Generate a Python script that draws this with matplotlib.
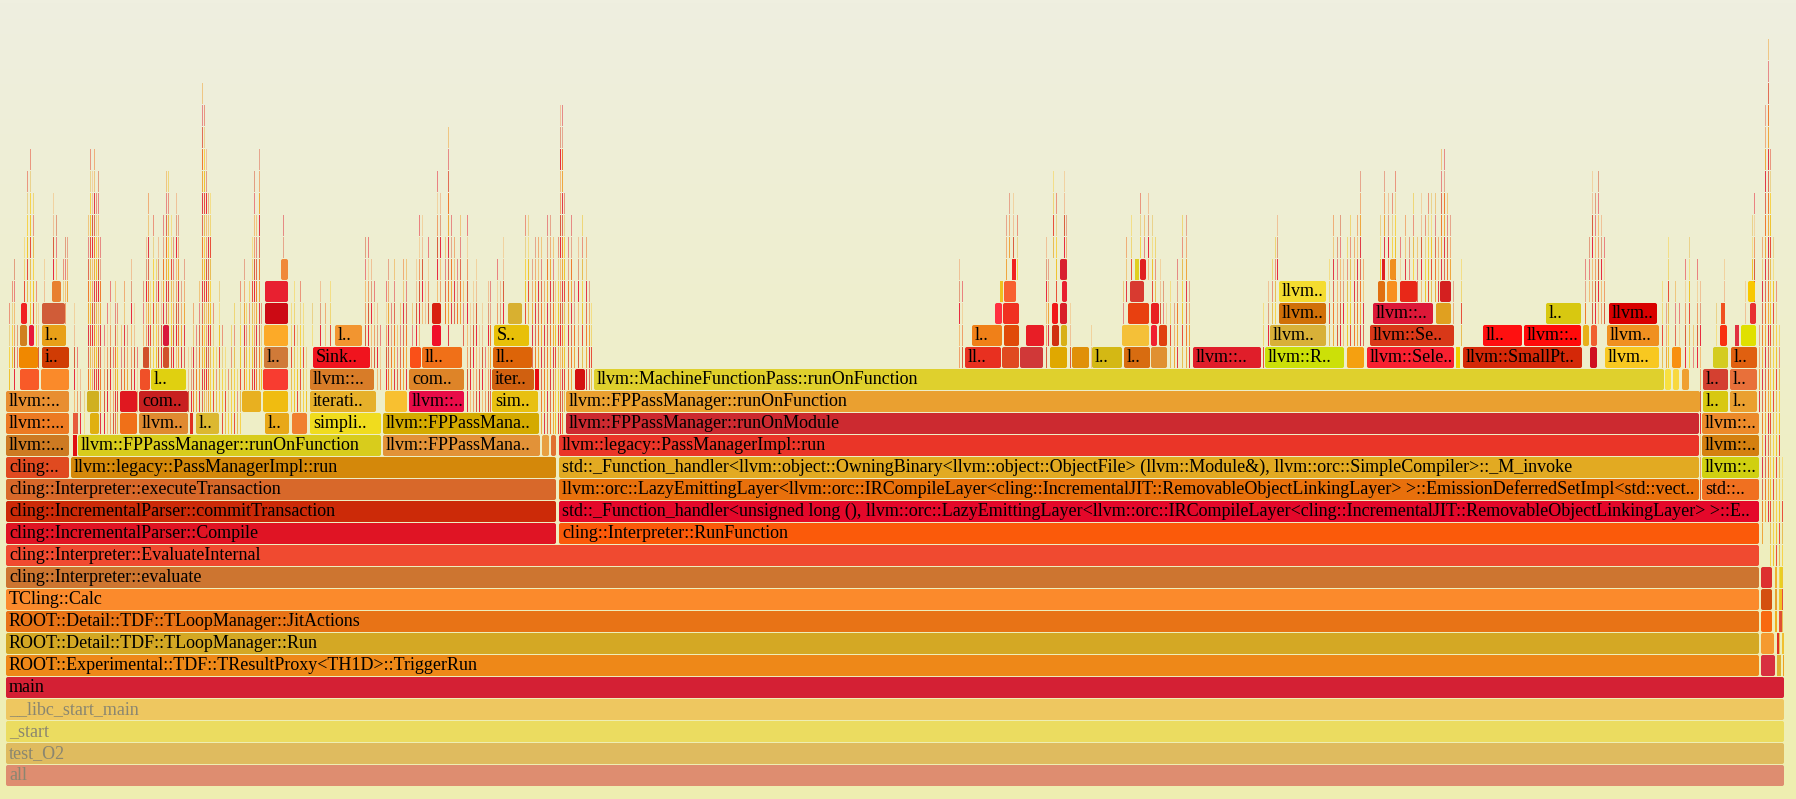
import numpy as np
import matplotlib
matplotlib.use("Agg")
import matplotlib.pyplot as plt
from matplotlib.patches import FancyBboxPatch, Rectangle
from matplotlib.colors import LinearSegmentedColormap

# flame graph of test_O2 (zoomed on "main"), x in samples, depth from the root
FADED = ["all", "test_O2", "_start", "__libc_start_main"]

# (depth, start, end, label, colour)
base_stack = [
    (0, 0, 1779, "all", "#de8d70"),
    (1, 0, 1779, "test_O2", "#dfbb5f"),
    (2, 0, 1779, "_start", "#ebdc60"),
    (3, 0, 1779, "__libc_start_main", "#eec760"),
    (4, 0, 1779, "main", "#d42034"),
    (5, 0, 1754, "ROOT::Experimental::TDF::TResultProxy<TH1D>::TriggerRun", "#ee8818"),
    (5, 1755, 1770, "", "#d83040"), (5, 1771, 1776, "", "#e0b030"), (5, 1777, 1779, "", "#f0a020"),
    (6, 0, 1754, "ROOT::Detail::TDF::TLoopManager::Run", "#d4a824"),
    (6, 1755, 1769, "", "#f59a30"), (6, 1771, 1774, "", "#e03020"), (6, 1776, 1779, "", "#f0c030"),
    (7, 0, 1754, "ROOT::Detail::TDF::TLoopManager::JitActions", "#e87316"),
    (7, 1755, 1767, "", "#f86a10"), (7, 1769, 1772, "", "#f0b020"), (7, 1774, 1777, "", "#e05030"),
    (8, 0, 1754, "TCling::Calc", "#fb8a2c"),
    (8, 1755, 1767, "", "#d45010"), (8, 1769, 1772, "", "#e8a030"), (8, 1774, 1777, "", "#f0c020"),
    (9, 0, 1754, "cling::Interpreter::evaluate", "#cd7530"),
    (9, 1755, 1767, "", "#dd3030"), (9, 1769, 1772, "", "#f0b030"), (9, 1774, 1777, "", "#e8d020"),
    (10, 0, 1754, "cling::Interpreter::EvaluateInternal", "#f04a30"),
    (11, 0, 551, "cling::IncrementalParser::Compile", "#e01424"),
    (11, 553, 1754, "cling::Interpreter::RunFunction", "#fb5a0a"),
    (12, 0, 551, "cling::IncrementalParser::commitTransaction", "#cc2a08"),
    (12, 553, 1754, "std::_Function_handler<unsigned long (), llvm::orc::LazyEmittingLayer<llvm::orc::IRCompileLayer<cling::IncrementalJIT::RemovableObjectLinkingLayer> >::E..", "#e4082a"),
    (13, 0, 551, "cling::Interpreter::executeTransaction", "#d8682a"),
    (13, 553, 1694, "llvm::orc::LazyEmittingLayer<llvm::orc::IRCompileLayer<cling::IncrementalJIT::RemovableObjectLinkingLayer> >::EmissionDeferredSetImpl<std::vect..", "#e8700c"),
    (13, 1696, 1754, "std::..", "#f07020"),
    (14, 0, 64, "cling:..", "#e04a20"),
    (14, 65, 551, "llvm::legacy::PassManagerImpl::run", "#d4880a"),
    (14, 553, 1694, "std::_Function_handler<llvm::object::OwningBinary<llvm::object::ObjectFile> (llvm::Module&), llvm::orc::SimpleCompiler>::_M_invoke", "#e2aa22"),
    (14, 1696, 1754, "llvm::..", "#d0d010"),
]

left_frames = [
    (15, 0, 64, "llvm::...", "#cd7a22"), (15, 67, 72, "", "#e01010"),
    (15, 72, 376, "llvm::FPPassManager::runOnFunction", "#d8cc1c"),
    (15, 377, 535, "llvm::FPPassMana..", "#e29238"), (15, 536, 544, "", "#e8a040"), (15, 545, 551, "", "#e07030"),
    (16, 0, 64, "llvm::...", "#ec7a22"), (16, 67, 72, "", "#e85a3a"), (16, 84, 94, "", "#e0b010"),
    (16, 114, 132, "", "#f07018"), (16, 133, 183, "llvm..", "#e08a30"), (16, 184, 188, "", "#e03020"),
    (16, 190, 214, "l..", "#dcb830"), (16, 259, 284, "l..", "#e8a818"), (16, 286, 302, "", "#f08030"),
    (16, 304, 376, "simpli..", "#f0dc1e"), (16, 377, 534, "llvm::FPPassMana..", "#d4aa00"),
    (17, 0, 64, "llvm::..", "#e88e30"), (17, 81, 94, "", "#d0b020"), (17, 114, 132, "", "#e01820"),
    (17, 133, 183, "com..", "#c82020"), (17, 236, 256, "", "#e8b020"), (17, 257, 283, "", "#f0bc10"),
    (17, 304, 371, "iterati..", "#e6b02a"), (17, 379, 402, "", "#f8c030"),
    (17, 403, 459, "llvm::..", "#e80c48"), (17, 486, 533, "sim..", "#e8c010"),
    (18, 14, 34, "", "#f85a28"), (18, 35, 64, "", "#fa8a2a"), (18, 134, 145, "", "#f05028"),
    (18, 145, 181, "l..", "#e0d010"), (18, 257, 283, "", "#f83c30"), (18, 304, 369, "llvm::..", "#d87c28"),
    (18, 403, 459, "com..", "#de8428"), (18, 486, 529, "iter..", "#d06010"), (18, 529, 534, "", "#e80a10"),
    (19, 13, 33, "", "#f08800"), (19, 36, 64, "i..", "#d03c04"), (19, 137, 144, "", "#d0502a"),
    (19, 157, 164, "", "#d0502a"), (19, 258, 283, "l..", "#d07a38"), (19, 307, 365, "Sink..", "#f0141e"),
    (19, 404, 416, "", "#fa5018"), (19, 416, 457, "ll..", "#f07018"), (19, 487, 527, "ll..", "#dd6408"),
    (20, 14, 22, "", "#d08020"), (20, 23, 29, "", "#e8183a"), (20, 36, 61, "l..", "#e8a018"),
    (20, 157, 164, "", "#d8183a"), (20, 258, 283, "", "#fcaa28"), (20, 329, 357, "l..", "#f29530"),
    (20, 426, 436, "", "#f0102a"), (20, 488, 524, "S..", "#e8c008"),
    (21, 15, 22, "", "#f02020"), (21, 36, 60, "", "#d05c38"), (21, 259, 283, "", "#cc0a14"),
    (21, 426, 436, "", "#d82010"), (21, 502, 517, "", "#d8b030"),
    (22, 46, 56, "", "#e88030"), (22, 259, 283, "", "#e82030"),
    (23, 275, 283, "", "#f08838"),
]

right_frames = [
    (15, 553, 1694, "llvm::legacy::PassManagerImpl::run", "#ea3528"), (15, 1696, 1754, "llvm::..", "#d48010"),
    (16, 560, 1694, "llvm::FPPassManager::runOnModule", "#cc2a30"), (16, 1696, 1754, "llvm::..", "#ec8a2a"),
    (17, 560, 1695, "llvm::FPPassManager::runOnFunction", "#eaa030"),
    (17, 1697, 1723, "l..", "#d8c810"), (17, 1724, 1752, "l..", "#eaa030"),
    (18, 569, 580, "", "#d41010"), (18, 588, 1659, "llvm::MachineFunctionPass::runOnFunction", "#dfd02d"),
    (18, 1659, 1666, "", "#f8e040"), (18, 1667, 1674, "", "#f8d840"), (18, 1676, 1684, "", "#f0a030"),
    (18, 1697, 1723, "l..", "#d44030"), (18, 1724, 1752, "l..", "#e8703a"),
    (19, 959, 996, "ll..", "#e83020"), (19, 996, 1014, "", "#e04a20"), (19, 1014, 1038, "", "#d03838"),
    (19, 1044, 1062, "", "#e0a800"), (19, 1066, 1084, "", "#e09008"), (19, 1086, 1117, "l..", "#d4b814"),
    (19, 1118, 1145, "l..", "#d86c10"), (19, 1145, 1162, "", "#e09030"), (19, 1187, 1256, "llvm::..", "#e01e2a"),
    (19, 1259, 1339, "llvm::R..", "#cce008"), (19, 1341, 1359, "", "#f5a010"),
    (19, 1361, 1449, "llvm::Sele..", "#f82030"), (19, 1450, 1455, "", "#f0d000"),
    (19, 1457, 1577, "llvm::SmallPt..", "#d42808"), (19, 1584, 1592, "", "#d01020"),
    (19, 1599, 1654, "llvm..", "#f8c820"), (19, 1666, 1676, "", "#f89010"),
    (19, 1707, 1723, "", "#d4cc20"), (19, 1725, 1752, "l..", "#e06010"),
    (20, 966, 997, "l..", "#f08018"), (20, 998, 1014, "", "#e04a08"), (20, 1020, 1039, "", "#e81e26"),
    (20, 1046, 1054, "", "#d03010"), (20, 1055, 1062, "", "#d8b018"), (20, 1116, 1144, "", "#f4c038"),
    (20, 1145, 1152, "", "#f02030"), (20, 1153, 1162, "", "#e04010"), (20, 1264, 1321, "llvm..", "#d8b038"),
    (20, 1364, 1449, "llvm::Se..", "#d83818"), (20, 1477, 1517, "ll..", "#ff1010"),
    (20, 1518, 1576, "llvm::..", "#ff0a0a"), (20, 1577, 1584, "", "#e8b018"), (20, 1585, 1592, "", "#f06030"),
    (20, 1601, 1654, "llvm..", "#f09020"), (20, 1714, 1722, "", "#f83010"), (20, 1729, 1734, "", "#e03040"),
    (20, 1735, 1751, "", "#e0e000"),
    (21, 989, 997, "", "#ff3040"), (21, 997, 1014, "", "#f03020"), (21, 1046, 1053, "", "#f01818"),
    (21, 1054, 1062, "", "#d81e28"), (21, 1122, 1144, "", "#e84010"), (21, 1145, 1154, "", "#e82020"),
    (21, 1273, 1321, "llvm..", "#d07008"), (21, 1367, 1428, "llvm::..", "#dc1838"),
    (21, 1430, 1446, "", "#e0a020"), (21, 1540, 1576, "l..", "#d8c810"), (21, 1603, 1652, "llvm..", "#d80000"),
    (21, 1715, 1720, "", "#f05020"), (21, 1744, 1751, "", "#e83030"),
    (22, 994, 998, "", "#f0c020"), (22, 998, 1011, "", "#f86030"), (22, 1056, 1062, "", "#e82030"),
    (22, 1124, 1139, "", "#d83a30"), (22, 1273, 1321, "llvm..", "#f4dc30"), (22, 1372, 1380, "", "#e07010"),
    (22, 1381, 1392, "", "#f89020"), (22, 1394, 1412, "", "#e82818"), (22, 1434, 1446, "", "#d42020"),
    (22, 1742, 1750, "", "#f8c800"),
    (23, 1006, 1011, "", "#f02020"), (23, 1054, 1062, "", "#d82030"), (23, 1129, 1134, "", "#e0d020"),
    (23, 1134, 1141, "", "#e02020"), (23, 1376, 1380, "", "#e02020"), (23, 1384, 1391, "", "#f09020"),
]

# thin call chains: (start, width, lowest depth, highest depth)
left_towers = [
    (0, 1, 18, 26), (3, 2, 18, 21), (6, 2, 19, 22), (8, 2, 18, 23), (11, 2, 19, 20),
    (18, 2, 22, 24), (21, 2, 22, 27), (24, 2, 21, 28), (27, 2, 21, 26), (30, 2, 20, 22), (32, 2, 19, 21),
    (38, 2, 22, 23), (47, 2, 23, 26), (50, 2, 23, 25), (57, 2, 22, 23), (59, 2, 21, 24), (61, 2, 22, 24),
    (68, 2, 16, 21), (71, 2, 16, 19), (74, 2, 16, 18), (78, 2, 16, 17), (82, 2, 17, 25), (84, 2, 17, 28),
    (86, 2, 17, 27), (88, 2, 17, 28), (90, 2, 17, 26), (92, 2, 17, 27), (94, 2, 16, 24), (98, 2, 16, 20),
    (101, 2, 16, 21), (104, 2, 16, 22), (107, 2, 16, 19), (109, 2, 16, 22), (111, 2, 16, 21),
    (115, 2, 18, 20), (118, 2, 18, 22), (121, 2, 18, 20), (125, 2, 18, 23), (128, 2, 18, 21), (131, 2, 17, 19),
    (137, 2, 19, 22), (140, 2, 19, 24), (142, 2, 19, 26), (144, 2, 19, 22), (147, 2, 19, 25),
    (150, 2, 19, 23), (152, 2, 19, 24), (155, 2, 19, 22), (157, 2, 21, 25), (160, 2, 19, 27),
    (162, 2, 19, 27), (165, 2, 19, 25), (167, 2, 19, 24), (170, 2, 19, 26), (172, 2, 19, 25),
    (175, 2, 19, 22), (178, 2, 19, 23), (182, 2, 17, 19),
    (185, 2, 17, 19), (187, 2, 17, 21), (190, 2, 17, 20), (193, 2, 17, 22), (196, 2, 17, 31),
    (198, 2, 17, 30), (200, 2, 17, 28), (202, 2, 17, 26), (204, 2, 17, 26), (207, 2, 17, 21),
    (210, 2, 17, 19), (213, 2, 17, 22), (216, 2, 16, 20), (219, 2, 16, 19), (222, 2, 16, 18),
    (225, 2, 16, 20), (228, 2, 16, 21), (231, 2, 16, 18), (234, 2, 16, 22), (238, 2, 18, 23),
    (240, 2, 18, 21), (243, 2, 18, 22), (246, 2, 18, 24), (248, 2, 18, 27), (250, 2, 18, 25),
    (253, 2, 18, 28), (255, 2, 18, 21), (277, 2, 24, 25), (281, 1, 23, 24),
    (285, 2, 17, 21), (288, 2, 17, 22), (291, 2, 17, 20), (294, 2, 17, 22), (297, 2, 17, 21), (300, 2, 17, 19),
    (306, 2, 20, 21), (314, 2, 20, 22), (319, 2, 20, 21), (324, 2, 20, 22), (359, 2, 20, 24),
    (362, 2, 20, 24), (365, 2, 19, 23), (368, 2, 19, 22), (371, 2, 18, 21), (374, 2, 18, 20),
    (380, 2, 18, 22), (382, 2, 18, 23), (385, 2, 18, 21), (388, 2, 18, 23), (391, 2, 18, 20),
    (394, 2, 18, 21), (397, 2, 18, 23), (400, 2, 18, 23),
    (406, 2, 20, 21), (410, 2, 20, 23), (413, 2, 20, 25), (416, 2, 21, 25), (419, 2, 21, 22),
    (422, 2, 21, 24), (431, 2, 22, 27), (434, 2, 22, 26), (439, 2, 21, 24), (442, 2, 20, 29),
    (445, 2, 21, 25), (448, 2, 21, 24), (451, 2, 21, 23), (454, 2, 21, 25), (457, 2, 20, 22),
    (461, 2, 17, 25), (464, 2, 17, 21), (467, 2, 17, 22), (470, 2, 17, 23), (473, 2, 17, 20),
    (476, 2, 17, 21), (479, 2, 17, 19), (482, 2, 17, 22), (484, 2, 17, 22),
    (491, 2, 21, 23), (494, 2, 21, 22), (497, 2, 21, 24), (519, 2, 21, 25), (522, 2, 21, 25),
    (526, 2, 19, 23), (529, 2, 19, 24), (532, 2, 19, 24),
    (535, 2, 16, 24), (538, 2, 16, 22), (541, 2, 16, 25), (544, 2, 16, 25), (547, 2, 16, 24), (549, 2, 16, 22),
    (552, 2, 16, 24), (554, 2, 16, 30), (556, 2, 16, 30), (558, 2, 17, 26), (562, 2, 18, 24),
    (565, 2, 18, 25), (568, 2, 19, 22), (572, 2, 19, 24), (576, 2, 19, 25), (580, 2, 18, 24),
    (583, 2, 18, 22), (585, 2, 18, 21),
]

right_towers = [
    (953, 2, 19, 23), (956, 2, 19, 22), (1000, 2, 23, 25), (1003, 2, 24, 26), (1007, 2, 24, 26),
    (1011, 2, 23, 25), (1040, 2, 19, 24), (1042, 2, 20, 23), (1047, 2, 24, 27), (1050, 2, 22, 26),
    (1058, 2, 24, 27), (1060, 2, 23, 25), (1064, 2, 19, 21), (1085, 2, 19, 20),
    (1117, 2, 21, 22), (1120, 2, 22, 24), (1125, 2, 23, 25), (1134, 2, 24, 26), (1138, 2, 24, 25),
    (1142, 2, 23, 26), (1146, 2, 22, 25), (1149, 2, 21, 24), (1154, 2, 21, 23), (1157, 2, 21, 22),
    (1160, 2, 20, 21), (1164, 2, 19, 22), (1168, 2, 19, 21), (1171, 2, 19, 23), (1176, 2, 19, 25),
    (1180, 2, 19, 25), (1183, 2, 19, 22),
    (1257, 2, 19, 21), (1262, 2, 20, 22), (1266, 2, 20, 23), (1269, 2, 20, 24), (1271, 2, 23, 25),
    (1323, 2, 20, 23), (1327, 2, 20, 25), (1331, 2, 20, 24), (1334, 2, 20, 25), (1337, 2, 20, 23),
    (1341, 2, 20, 24), (1344, 2, 20, 25), (1348, 2, 20, 24), (1351, 2, 20, 25), (1354, 2, 20, 27),
    (1357, 2, 20, 23),
    (1374, 2, 23, 25), (1378, 2, 24, 27), (1382, 2, 23, 26), (1386, 2, 23, 26), (1389, 2, 23, 27),
    (1394, 2, 23, 24), (1399, 2, 23, 25), (1403, 2, 22, 24), (1407, 2, 22, 26), (1411, 2, 22, 24),
    (1415, 2, 22, 26), (1419, 2, 22, 25), (1422, 2, 22, 26), (1425, 2, 22, 26), (1429, 2, 22, 26),
    (1432, 2, 21, 24), (1435, 2, 23, 28), (1438, 2, 23, 28), (1441, 2, 23, 26), (1444, 2, 23, 25),
    (1447, 2, 21, 22), (1455, 2, 20, 23),
    (1579, 2, 21, 23), (1583, 2, 22, 24), (1586, 2, 21, 27), (1589, 2, 21, 26), (1592, 2, 21, 27),
    (1595, 2, 21, 25), (1598, 2, 21, 24),
    (1656, 2, 19, 22), (1660, 2, 19, 21), (1662, 2, 19, 24), (1669, 2, 20, 22), (1673, 2, 19, 21),
    (1679, 2, 19, 23), (1683, 2, 19, 24), (1687, 2, 19, 20), (1691, 2, 19, 23), (1694, 2, 13, 22),
    (1710, 2, 20, 21), (1718, 2, 22, 23), (1739, 2, 21, 22), (1746, 2, 23, 25), (1748, 2, 22, 26),
    (1753, 2, 17, 20), (1756, 2, 11, 24), (1759, 2, 12, 30), (1762, 2, 12, 33), (1764, 2, 10, 28),
    (1767, 2, 10, 24), (1770, 2, 10, 22), (1773, 2, 6, 20), (1776, 2, 6, 14), (1778, 1, 6, 10),
]

sliver_colours = ["#e8402a", "#f0a030", "#e81830", "#f0c020", "#f07020", "#d85030",
                  "#f8d040", "#e06048", "#f09860", "#e8b848", "#e02838", "#f4b870"]

ROW = 22.0           # pixels per stack level
H = 21.0 / ROW       # frame height in levels
FS = 13.0
font = ["Liberation Serif", "DejaVu Serif"]

fig = plt.figure(figsize=(17.96, 7.99), dpi=100)
ax = fig.add_axes([0, 0, 1, 1])
x_lo, x_hi = -6, 1790
y_lo, y_hi = -13 / ROW, 786 / ROW
ax.set_xlim(x_lo, x_hi)
ax.set_ylim(y_lo, y_hi)
ax.axis("off")

# background gradient like flamegraph.pl
bg = LinearSegmentedColormap.from_list("bg", ["#efefe0", "#eeeeb0"])
ax.imshow(np.linspace(0, 1, 256)[:, None], extent=(x_lo, x_hi, y_lo, y_hi),
          aspect="auto", cmap=bg, origin="upper", zorder=0)

for x, w, d0, d1 in left_towers + right_towers:
    for d in range(d0, d1 + 1):
        c = sliver_colours[(x * 7 + d * 3) % len(sliver_colours)]
        a = 0.5 if d1 - d < 2 else 0.9
        ax.add_patch(Rectangle((x, d), w - 0.8, H, fc=c, ec="none", lw=0, alpha=a, zorder=1))

for d, x0, x1, label, c in base_stack + left_frames + right_frames:
    w = x1 - x0 - 1
    if w > 4:
        p = FancyBboxPatch((x0, d), w, H, boxstyle="round,pad=0,rounding_size=2",
                           mutation_aspect=1 / ROW, fc=c, ec="none", zorder=2)
    else:
        p = Rectangle((x0, d), max(w, 0.8), H, fc=c, ec="none", lw=0, zorder=2)
    ax.add_patch(p)
    if label:
        faded = label in FADED
        t = ax.text(x0 + 3, d + 0.27, label, fontsize=FS, family=font, va="baseline",
                    color="#8a8670" if faded else "black", zorder=3)
        t.set_clip_path(p)

fig.savefig("out.png", dpi=100, facecolor="#eeeeb0")
